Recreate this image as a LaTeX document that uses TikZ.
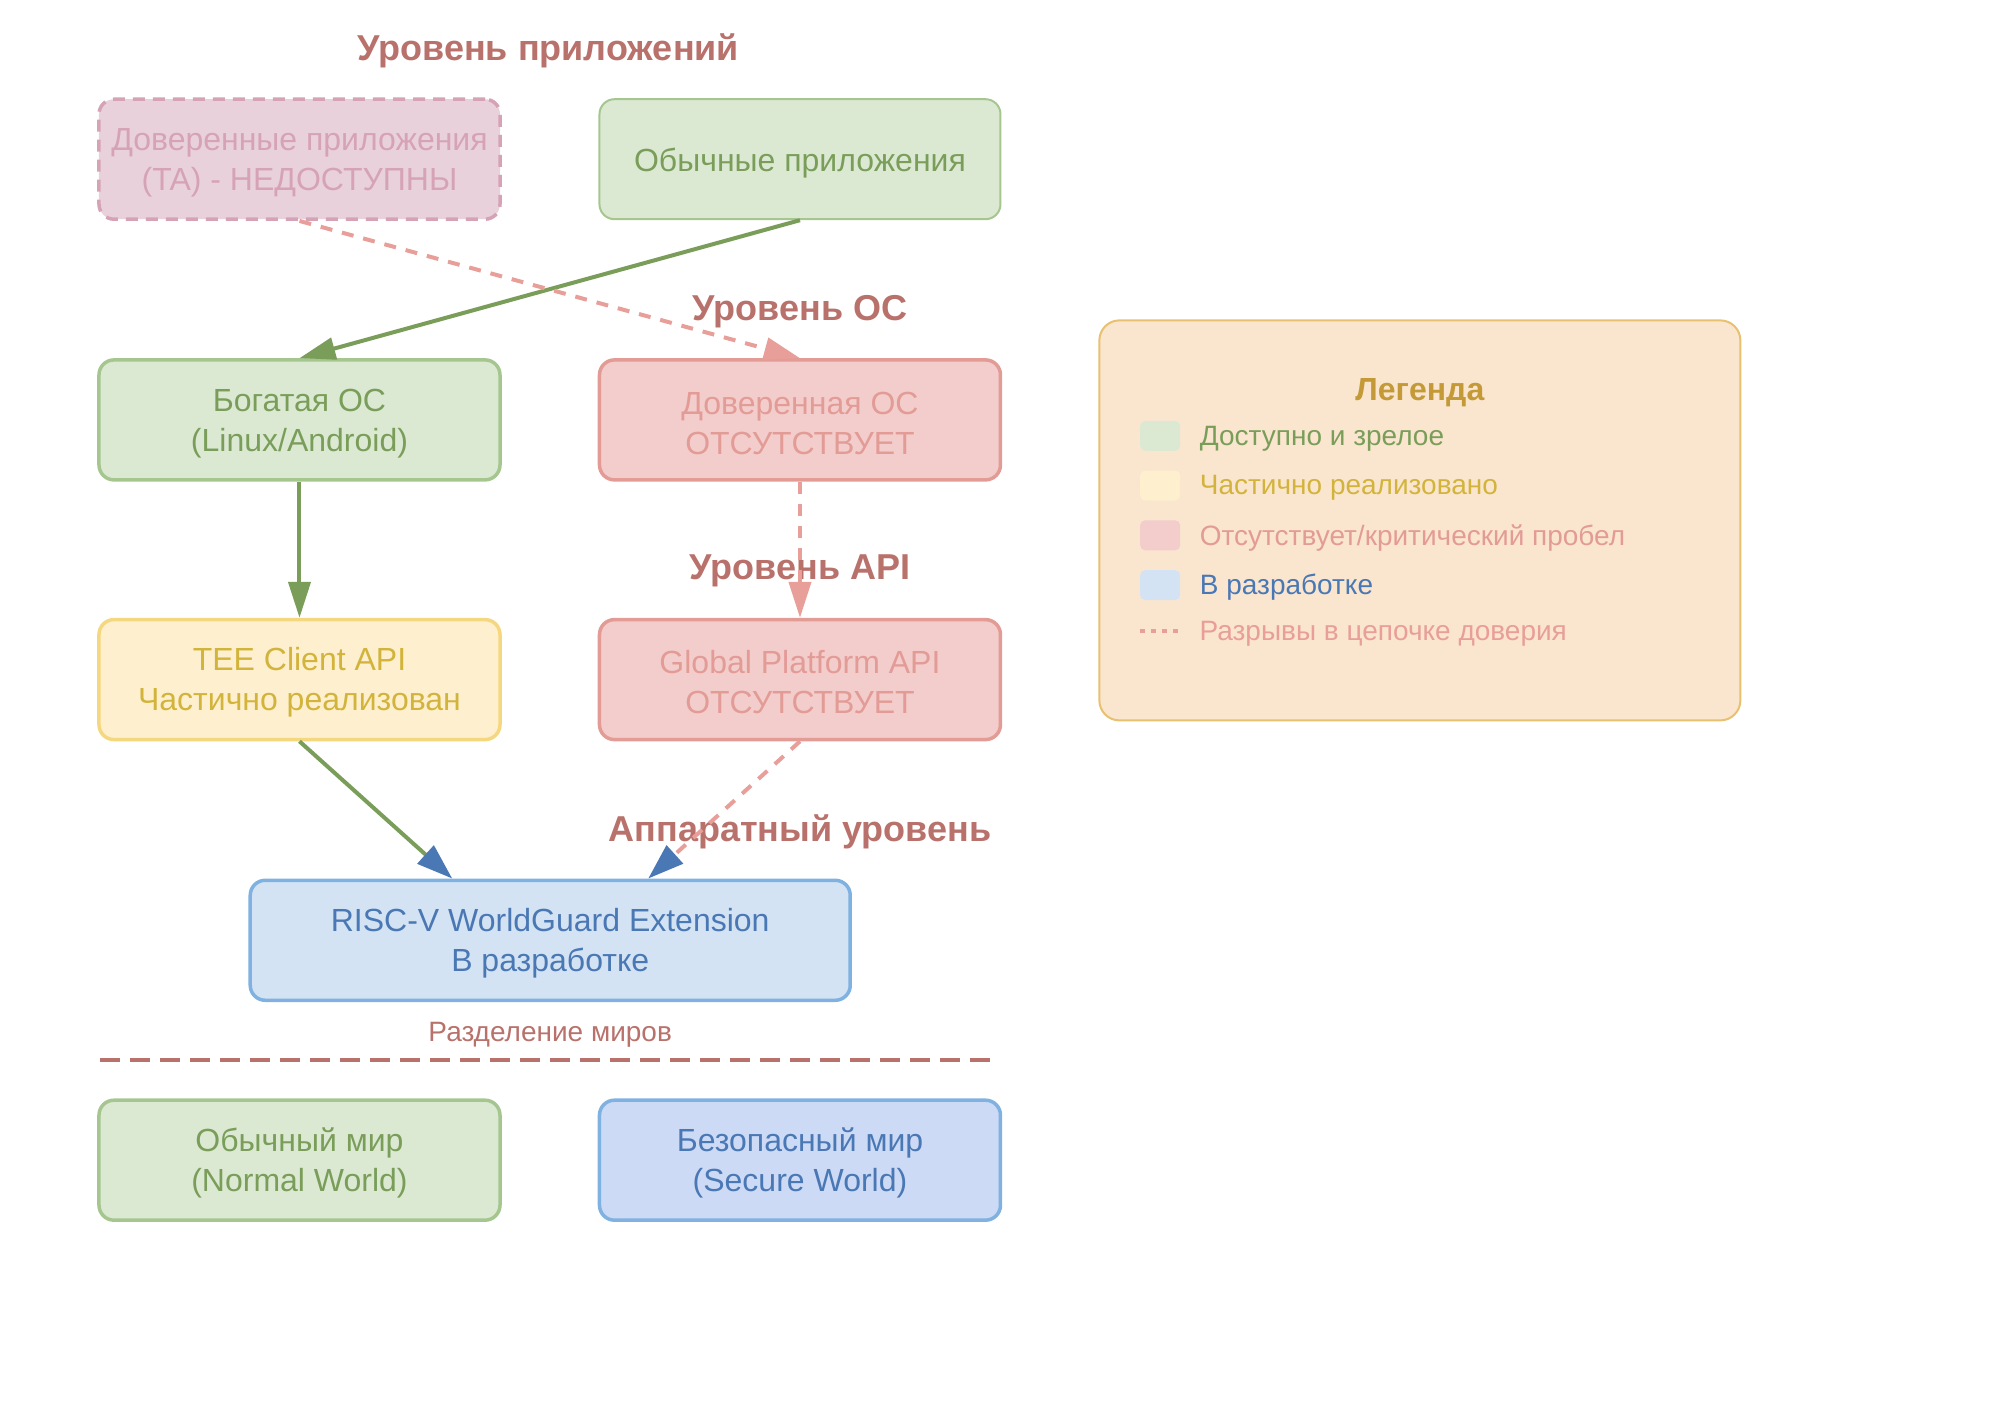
\documentclass[tikz,border=0pt]{standalone}
\usepackage{fontspec}
\setmainfont{Liberation Sans}
\usetikzlibrary{positioning, arrows.meta, calc}

% colours
\definecolor{okfill}{HTML}{DBE9D3}
\definecolor{okline}{HTML}{A6C690}
\definecolor{oktext}{HTML}{7A9E5A}
\definecolor{tafill}{HTML}{E9D1DC}
\definecolor{taline}{HTML}{D6A3B6}
\definecolor{redfill}{HTML}{F2CDCC}
\definecolor{redline}{HTML}{E39B96}
\definecolor{yelfill}{HTML}{FEF0CE}
\definecolor{yelline}{HTML}{F5D77F}
\definecolor{yeltext}{HTML}{D2B43C}
\definecolor{blufill}{HTML}{D3E3F3}
\definecolor{secfill}{HTML}{CCDAF5}
\definecolor{bluline}{HTML}{7FB1E1}
\definecolor{blutext}{HTML}{4A78B5}
\definecolor{legfill}{HTML}{FAE6CF}
\definecolor{legline}{HTML}{E8C170}
\definecolor{legtext}{HTML}{C49A38}
\definecolor{lvltext}{HTML}{B8716B}
\definecolor{gaparrow}{HTML}{E89E99}

\begin{document}
\begin{tikzpicture}[x=0.995pt, y=-0.995pt,
    box lift/.initial=69pt,
    box/.style={rounded corners=15pt, minimum width=401pt, minimum height=120pt, inner sep=0pt,
        align=center, line width=3.5pt, font=\fontsize{32}{40}\selectfont,
        execute at begin node={\rule{0pt}{\pgfkeysvalueof{/tikz/box lift}}}},
    okbox/.style={box, draw=okline, fill=okfill, text=oktext},
    tabox/.style={box, draw=taline, fill=tafill, text=taline, dash pattern=on 12pt off 8pt},
    redbox/.style={box, draw=redline, fill=redfill, text=redline},
    yelbox/.style={box, draw=yelline, fill=yelfill, text=yeltext},
    blubox/.style={box, draw=bluline, fill=blufill, text=blutext},
    level/.style={text=lvltext, font=\fontsize{36}{40}\selectfont\bfseries},
    okarrow/.style={draw=oktext, line width=4pt, -{Triangle[length=36pt, width=22pt]}},
    gaparrow/.style={draw=gaparrow, line width=4pt, dash pattern=on 12pt off 10pt, -{Triangle[length=36pt, width=22pt]}},
    hwtip/.style={-{Triangle[length=36pt, width=24pt, color=blutext, fill=blutext]}},
    swatch/.style={minimum width=40pt, minimum height=30pt, inner sep=0pt, rounded corners=5pt},
    legtxt/.style={anchor=west, yshift=-2.5pt, font=\fontsize{28}{32}\selectfont},
  ]
    \useasboundingbox (0,0) rectangle (2010.05,1407.04);

    % level titles
    \node[level] (lvlapp) at (551,51) {Уровень приложений};
    \node[level] (lvlos) at (804,313) {Уровень ОС};
    \node[level] (lvlapi) at (804,574) {Уровень API};
    \node[level] (lvlhw) at (804,836) {Аппаратный уровень};

    % stack
    \node[tabox] (ta) at (301,160) {Доверенные приложения\\(TA) - НЕДОСТУПНЫ};
    \node[okbox, line width=2pt, box lift=32pt] (apps) at (804,160) {Обычные приложения};
    \node[okbox] (rich) at (301,422) {Богатая ОС\\(Linux/Android)};
    \node[redbox] (tos) at (804,422) {Доверенная ОС\\ОТСУТСТВУЕТ};
    \node[yelbox] (client) at (301,683) {TEE Client API\\Частично реализован};
    \node[redbox] (gp) at (804,683) {Global Platform API\\ОТСУТСТВУЕТ};
    \node[blubox, minimum width=600pt] (risc) at (553,945) {RISC-V WorldGuard Extension\\В разработке};

    \coordinate (riscL) at ([xshift=-98pt]risc.north);
    \coordinate (riscR) at ([xshift=98pt]risc.north);

    \draw[okarrow] (apps.south) -- (rich.north);
    \draw[gaparrow] (ta.south) -- (tos.north);
    \draw[okarrow] (rich.south) -- (client.north);
    \draw[gaparrow] (tos.south) -- (gp.north);
    \draw[okarrow, hwtip] (client.south) -- (riscL);
    \draw[gaparrow, hwtip] (gp.south) -- (riscR);

    % worlds
    \node[text=lvltext, font=\fontsize{28}{32}\selectfont] (split) at (553,1040) {Разделение миров};
    \coordinate (sepL) at (100,1065);
    \coordinate (sepR) at (996,1065);
    \draw[lvltext, line width=4pt, dash pattern=on 20pt off 10pt] (sepL) -- (sepR);
    \node[okbox] (normal) at (301,1166) {Обычный мир\\(Normal World)};
    \node[blubox, fill=secfill] (secure) at (804,1166) {Безопасный мир\\(Secure World)};

    % legend
    \node[draw=legline, fill=legfill, line width=2pt, rounded corners=20pt,
        minimum width=641pt, minimum height=400pt] (legend) at (1427,523) {};
    \node[text=legtext, font=\fontsize{32}{36}\selectfont\bfseries] (legtitle) at (1427,395) {Легенда};
    \node[swatch, fill=okfill] (sw1) at (1166,438) {};
    \node[swatch, fill=yelfill] (sw2) at (1166,488) {};
    \node[swatch, fill=redfill] (sw3) at (1166,538) {};
    \node[swatch, fill=blufill] (sw4) at (1166,588) {};
    \coordinate (dotA) at (1146,634);
    \coordinate (dotB) at (1186,634);
    \draw[gaparrow, line width=4pt, dash pattern=on 5pt off 6pt, -] (dotA) -- (dotB);
    \node[legtxt, text=oktext, right=16pt of sw1] (lt1) {Доступно и зрелое};
    \node[legtxt, text=yeltext, right=16pt of sw2] (lt2) {Частично реализовано};
    \node[legtxt, text=redline, right=16pt of sw3] (lt3) {Отсутствует/критический пробел};
    \node[legtxt, text=blutext, right=16pt of sw4] (lt4) {В разработке};
    \node[legtxt, text=gaparrow, right=16pt of dotB] (lt5) {Разрывы в цепочке доверия};
\end{tikzpicture}
\end{document}
